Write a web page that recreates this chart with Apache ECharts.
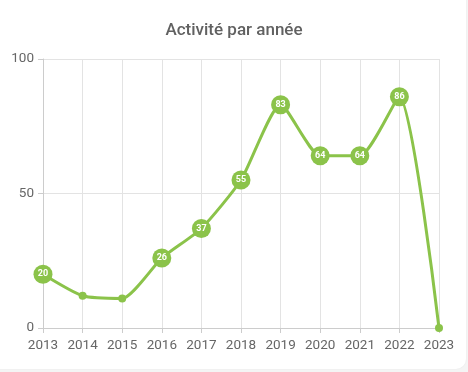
<!DOCTYPE html>
<html><head><meta charset="utf-8">
<script src="https://cdn.jsdelivr.net/npm/echarts@6/dist/echarts.min.js"></script>
<style>
html,body{margin:0;padding:0;width:468px;height:372px;overflow:hidden;background:#f4f4f4;}
#card{position:absolute;left:-12px;top:-12px;width:478px;height:381px;background:#fff;border-radius:10px;box-shadow:0 0 2px rgba(0,0,0,0.06);}
#c{position:absolute;left:0;top:0;width:468px;height:372px;}
</style></head>
<body><div id="card"></div><div id="c"></div>
<script>
const title = 'Activité par année';
const years = ['2013','2014','2015','2016','2017','2018','2019','2020','2021','2022','2023'];
const values = [20, 12, 11, 26, 37, 55, 83, 64, 64, 86, 0];
const labeled = [true, false, false, true, true, true, true, true, true, true, false];

const chart = echarts.init(document.getElementById('c'), null, {renderer:'canvas'});
const color = '#8bc34a';
chart.setOption({
  animation:false,
  backgroundColor:'transparent',
  title:{text:title,left:'center',top:17,textStyle:{fontFamily:'Roboto',fontSize:17,fontWeight:500,color:'#616161'}},
  grid:{left:43,right:29,top:59,bottom:44},
  xAxis:{type:'category',data:years,boundaryGap:false,
    axisLine:{lineStyle:{color:'#ccc'}},
    axisTick:{show:true,length:5,lineStyle:{color:'#ccc'}},
    axisLabel:{fontFamily:'Roboto',fontSize:13.5,color:'#666',margin:11},
    splitLine:{show:true,lineStyle:{color:'#e3e3e3'}}},
  yAxis:{type:'value',min:0,max:100,interval:50,
    axisLine:{show:true,lineStyle:{color:'#ccc'}},
    axisTick:{show:true,length:5,lineStyle:{color:'#ccc'}},
    axisLabel:{fontFamily:'Roboto',fontSize:13.5,color:'#666',margin:9},
    splitLine:{show:true,lineStyle:{color:'#e3e3e3'}}},
  series:[{type:'line',smooth:0.2,
    data:values.map((v,i)=>({value:v,symbolSize:labeled[i]?19:8,
      label:{show:labeled[i],position:'inside',color:'#fff',fontWeight:'bold',fontSize:9,fontFamily:'Roboto'}})),
    symbol:'circle',
    lineStyle:{color:color,width:3},
    itemStyle:{color:color}
  }]
});
</script></body></html>
